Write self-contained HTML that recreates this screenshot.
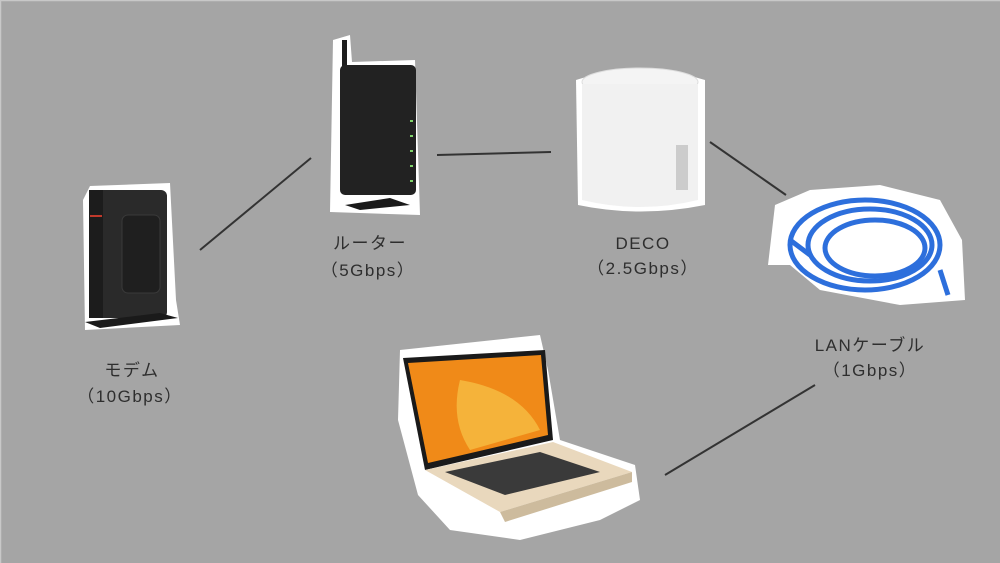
<!DOCTYPE html>
<html><head><meta charset="utf-8"><style>
html,body{margin:0;padding:0;background:#a5a5a5;}
svg{display:block}
text{font-family:"Liberation Sans","Noto Sans CJK JP",sans-serif;font-size:17px;fill:#2e2e2e;letter-spacing:1.5px}
</style></head><body>
<svg width="1000" height="563" viewBox="0 0 1000 563" xmlns="http://www.w3.org/2000/svg">
<rect x="0" y="0" width="1000" height="563" fill="#a5a5a5"/>
<path d="M0 0.5H1000M0.5 0V563" stroke="#c8c8c8" stroke-width="1.5"/>
<g stroke="#333" stroke-width="2">
<line x1="200" y1="250" x2="311" y2="158"/>
<line x1="437" y1="155" x2="551" y2="152"/>
<line x1="710" y1="142" x2="786" y2="195"/>
<line x1="665" y1="475" x2="815" y2="385"/>
</g>
<path d="M90 186 L170 183 L176 300 L180 325 L85 330 L83 200Z" fill="#fff"/>
<rect x="89" y="190" width="78" height="128" rx="6" fill="#2a2a2a"/>
<rect x="89" y="190" width="14" height="128" fill="#1c1c1c"/>
<rect x="90" y="215" width="12" height="2" fill="#c0392b"/>
<rect x="122" y="215" width="38" height="78" rx="6" fill="#1f1f1f" stroke="#3a3a3a"/>
<path d="M85 322 L160 313 L178 318 L100 328Z" fill="#1a1a1a"/>
<path d="M333 40 L350 35 L352 62 L415 60 L420 215 L330 212Z" fill="#fff"/>
<rect x="342" y="40" width="5" height="40" fill="#1e1e1e"/>
<rect x="340" y="65" width="76" height="130" rx="5" fill="#222"/>
<path d="M345 205 L390 198 L410 205 L360 210Z" fill="#1a1a1a"/>
<g fill="#7fd36a"><rect x="410" y="120" width="3" height="2"/><rect x="410" y="135" width="3" height="2"/><rect x="410" y="150" width="3" height="2"/><rect x="410" y="165" width="3" height="2"/><rect x="410" y="180" width="3" height="2"/></g>
<path d="M576 80 Q640 60 705 80 L705 205 Q640 218 578 205Z" fill="#fff"/>
<ellipse cx="640" cy="82" rx="58" ry="14" fill="#f4f4f4" stroke="#ddd"/>
<path d="M582 84 L582 200 Q640 214 698 200 L698 84" fill="#f1f1f1"/>
<rect x="676" y="145" width="12" height="45" fill="#ccc"/>
<path d="M775 205 L810 190 L880 185 L940 200 L962 240 L965 300 L900 305 L820 290 L790 265 L768 265Z" fill="#fff"/>
<g fill="none" stroke="#2d6fdc" stroke-width="5">
<ellipse cx="865" cy="245" rx="75" ry="45"/>
<ellipse cx="870" cy="245" rx="62" ry="36"/>
<ellipse cx="875" cy="248" rx="50" ry="28"/>
<path d="M790 240 L810 255"/>
<path d="M940 270 L948 295"/>
</g>
<path d="M400 350 L540 335 L548 370 L560 440 L635 465 L640 500 L600 520 L520 540 L450 530 L418 495 L398 420Z" fill="#fff"/>
<path d="M403 358 L545 350 L553 440 L425 470Z" fill="#1a1a1a"/>
<path d="M408 363 L541 355 L548 435 L428 463Z" fill="#f08a18"/>
<path d="M460 380 Q520 390 540 430 L470 450 Q450 420 460 380Z" fill="#f5b33a"/>
<path d="M425 470 L553 442 L632 472 L500 512Z" fill="#e9d8bd"/>
<path d="M445 472 L540 452 L600 472 L505 495Z" fill="#3a3a3a"/>
<path d="M500 512 L632 472 L632 482 L505 522Z" fill="#cdbb9d"/>
<text x="132" y="376" text-anchor="middle">モデム</text>
<text x="130" y="402" text-anchor="middle">（10Gbps）</text>
<text x="370" y="249" text-anchor="middle">ルーター</text>
<text x="368" y="276" text-anchor="middle">（5Gbps）</text>
<text x="643" y="249" text-anchor="middle">DECO</text>
<text x="643" y="274" text-anchor="middle">（2.5Gbps）</text>
<text x="870" y="351" text-anchor="middle">LANケーブル</text>
<text x="870" y="376" text-anchor="middle">（1Gbps）</text>
</svg>
</body></html>
